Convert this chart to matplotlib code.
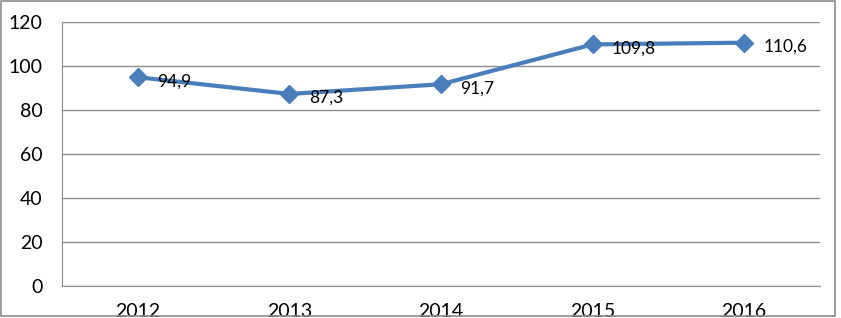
import matplotlib.pyplot as plt
from matplotlib.patches import Rectangle

years = ['2012', '2013', '2014', '2015', '2016']
values = [94.9, 87.3, 91.7, 109.8, 110.6]
labels = ['94,9', '87,3', '91,7', '109,8', '110,6']

plt.rcParams['font.family'] = ['Lato', 'DejaVu Sans']

fig = plt.figure(figsize=(8.41, 3.18), dpi=100)
ax = fig.add_axes([62/841, 32/318, 758/841, 264/318])

x = list(range(len(years)))
ax.plot(x, values, color='#4A7EBB', lw=3, marker='D', ms=9,
        markerfacecolor='#4A7EBB', markeredgecolor='#4A7EBB', zorder=3)
for xi, v, lab in zip(x, values, labels):
    ax.annotate(lab, (xi, v), xytext=(14, -3), textcoords='offset points',
                ha='left', va='center', fontsize=12.5, color='black')

ax.set_xlim(-0.5, 4.5)
ax.set_ylim(0, 120)
ax.set_yticks(range(0, 121, 20))
ax.set_xticks(x)
ax.set_xticklabels(years)
ax.grid(axis='y', color='#8c8c8c', lw=1)
ax.set_axisbelow(True)
for s in ['top', 'right']:
    ax.spines[s].set_visible(False)
for s in ['left', 'bottom']:
    ax.spines[s].set_color('#8c8c8c')
ax.tick_params(axis='both', length=0, labelsize=14)
ax.tick_params(axis='y', pad=14)
ax.tick_params(axis='x', pad=12)

fig.patches.append(Rectangle((1/841, 2/318), 834/841, 315/318, transform=fig.transFigure,
                             fill=False, edgecolor='#8c8c8c', lw=1.2))

fig.savefig('out.png', dpi=100)
